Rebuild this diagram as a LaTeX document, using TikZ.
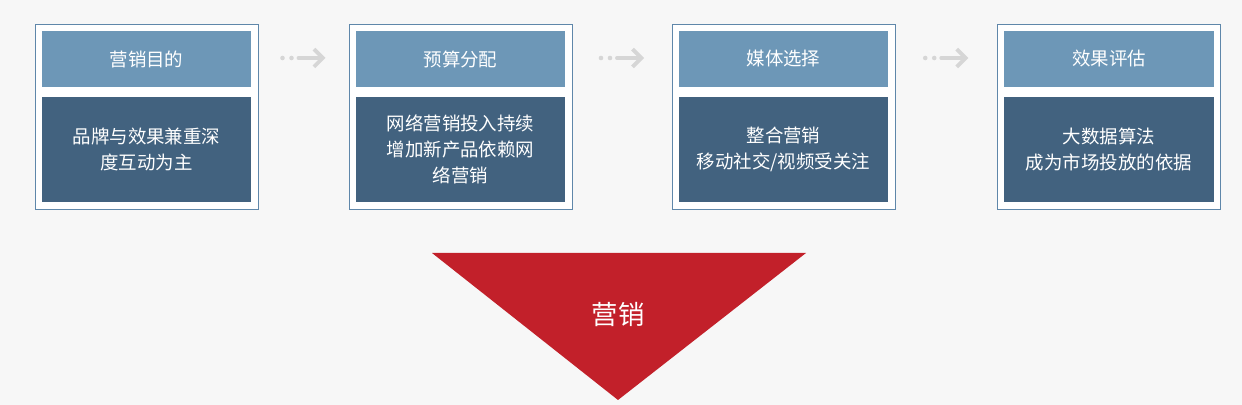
\documentclass[tikz,border=0pt]{standalone}
\usepackage{fontspec}
\setmainfont{Noto Sans CJK SC}
\usetikzlibrary{positioning,calc,arrows.meta}
\definecolor{bgc}{HTML}{F7F7F7}
\definecolor{frame}{HTML}{5F87AA}
\definecolor{head}{HTML}{6D97B7}
\definecolor{body}{HTML}{42627F}
\definecolor{trired}{HTML}{C2202A}
\definecolor{arrowc}{HTML}{D6D6D6}

\begin{document}
\begin{tikzpicture}[x=0.02cm, y=-0.02cm]
    \tikzstyle{panel} = [rectangle, draw=frame, fill=white, minimum width=4.46cm, minimum height=3.7cm, inner sep=0pt]
    \tikzstyle{header} = [rectangle, fill=head, text=white, minimum width=4.2cm, minimum height=1.12cm, font=\fontsize{10.5}{14}\selectfont]
    \tikzstyle{content} = [rectangle, fill=body, text=white, minimum width=4.2cm, minimum height=2.1cm, align=center, font=\fontsize{10.5}{14.8}\selectfont]
    \tikzstyle{flow} = [draw=arrowc, line width=2.2pt, line cap=round, -{Straight Barb[length=5pt,width=10pt]}]

    % Background
    \fill[bgc] (0,0) rectangle (1242,405);

    % Panels
    \foreach \n/\x/\h/\b in {p1/146.5/营销目的/{品牌与效果兼重深\\度互动为主},
                             p2/460.5/预算分配/{网络营销投入持续\\增加新产品依赖网\\络营销},
                             p3/783.5/媒体选择/{整合营销\\移动社交/视频受关注},
                             p4/1109/效果评估/{大数据算法\\成为市场投放的依据}} {
        \node[panel] (\n) at (\x,116.5) {};
        \node[header] (\n h) at (\x,59) {\h};
        \node[content] (\n b) at (\x,149.5) {\b};
    }

    % Arrows
    \foreach \a/\b in {p1/p2, p2/p3, p3/p4} {
        \coordinate (\a m) at ($(\a.east)!0.5!(\b.west)$);
        \coordinate (\a s) at ($(\a m)+(-5,-58.5)$);
        \coordinate (\a e) at ($(\a m)+(22,-58.5)$);
        \fill[arrowc] ($(\a m)+(-21,-58.5)$) circle (1.3pt) ($(\a m)+(-12,-58.5)$) circle (1.3pt);
        \draw[flow] (\a s) -- (\a e);
    }

    % Marketing triangle
    \coordinate (tl) at (432,253);
    \coordinate (tr) at (806,253);
    \coordinate (tb) at (618,400);
    \fill[trired] (tl) -- (tr) -- (tb) -- cycle;
    \node[text=white, font=\fontsize{15}{18}\selectfont] (mkt) at (618,315) {营销};
\end{tikzpicture}
\end{document}
